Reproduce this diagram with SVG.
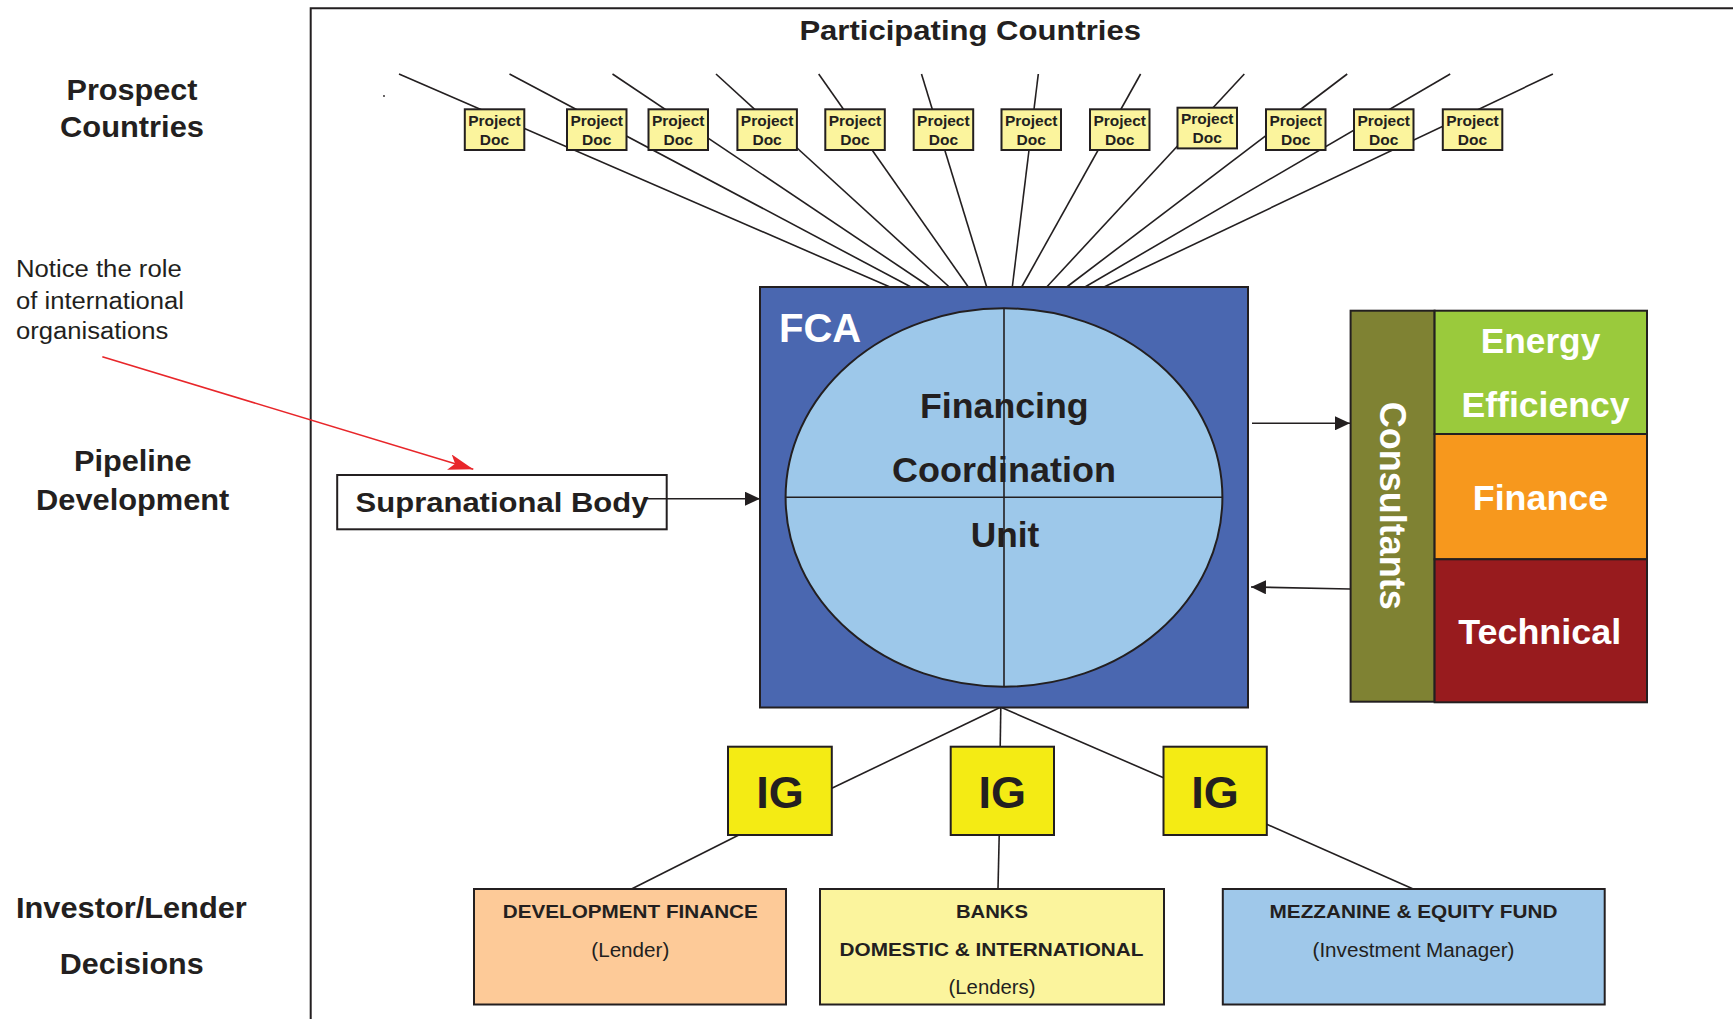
<svg xmlns="http://www.w3.org/2000/svg" width="1733" height="1019" viewBox="0 0 1733 1019">
  <style>
    text { font-family: "Liberation Sans", Arial, Helvetica, sans-serif; fill: #231F20; }
    .b { font-weight: bold; }
    .mid { text-anchor: middle; }
    .white { fill: #FFFFFF; }
    .frame { stroke: #231F20; stroke-width: 2; fill: none; }
    .ln { stroke: #231F20; stroke-width: 1.6; fill: none; }
    .doc rect { fill: #FBF49D; stroke: #231F20; stroke-width: 2; }
    .doc text { font-size: 15.5px; font-weight: bold; text-anchor: middle; }
    .lbl { font-size: 30px; font-weight: bold; text-anchor: middle; }
    .note { font-size: 23px; }
    .ig rect { fill: #F4EB14; stroke: #231F20; stroke-width: 2; }
    .ig text { font-size: 45px; font-weight: bold; text-anchor: middle; }
    .outlet { stroke: #231F20; stroke-width: 2; }
    .ht { font-size: 19px; font-weight: bold; text-anchor: middle; }
    .st { font-size: 19.5px; text-anchor: middle; }
    .fcu { font-size: 35px; font-weight: bold; text-anchor: middle; }
    .cap { font-size: 35px; font-weight: bold; text-anchor: middle; fill: #FFFFFF; }
  </style>
  <defs>
    <marker id="arrow" markerUnits="userSpaceOnUse" viewBox="0 0 15 14" markerWidth="15" markerHeight="14" refX="15" refY="7" orient="auto">
      <path d="M0,0 L15,7 L0,14 Z" fill="#231F20"/>
    </marker>
    <marker id="redArrow" markerUnits="userSpaceOnUse" viewBox="0 0 25 16" markerWidth="25" markerHeight="16" refX="25" refY="8" orient="auto">
      <path d="M0,0 L25,8 L0,16 L6,8 Z" fill="#E8262A"/>
    </marker>
  </defs>

  <rect width="1733" height="1019" fill="#FFFFFF"/>

  <!-- frame around the participating-countries area -->
  <path class="frame" d="M310.7,1019 V8.3 H1733"/>

  <!-- row labels -->
  <g id="label-prospect">
    <text class="lbl" x="132" y="100" textLength="131" lengthAdjust="spacingAndGlyphs">Prospect</text>
    <text class="lbl" x="132" y="136.7" textLength="144" lengthAdjust="spacingAndGlyphs">Countries</text>
  </g>
  <g id="label-note">
    <text class="note" x="16" y="277" textLength="165.7" lengthAdjust="spacingAndGlyphs">Notice the role</text>
    <text class="note" x="16" y="308.5" textLength="168" lengthAdjust="spacingAndGlyphs">of international</text>
    <text class="note" x="16" y="338.5" textLength="152.3" lengthAdjust="spacingAndGlyphs">organisations</text>
  </g>
  <g id="label-pipeline">
    <text class="lbl" x="132.8" y="471" textLength="117.7" lengthAdjust="spacingAndGlyphs">Pipeline</text>
    <text class="lbl" x="132.7" y="509.5" textLength="193.3" lengthAdjust="spacingAndGlyphs">Development</text>
  </g>
  <g id="label-investor">
    <text class="lbl" x="131.4" y="917.5" textLength="230.8" lengthAdjust="spacingAndGlyphs">Investor/Lender</text>
    <text class="lbl" x="131.7" y="973.5" textLength="144" lengthAdjust="spacingAndGlyphs">Decisions</text>
  </g>
  <g id="title">
    <text class="b mid" x="970.2" y="40" font-size="28" textLength="341.6" lengthAdjust="spacingAndGlyphs">Participating Countries</text>
  </g>

  <!-- small stray mark -->
  <circle cx="384" cy="96" r="0.9" fill="#231F20"/>

  <!-- connectors -->
  <g id="connectors">
    <!-- project documents feeding the FCA -->
    <line class="ln" x1="399" y1="74" x2="890" y2="287"/>
    <line class="ln" x1="509.5" y1="74" x2="911" y2="287"/>
    <line class="ln" x1="612.5" y1="74" x2="930" y2="287"/>
    <line class="ln" x1="716" y1="74" x2="949.3" y2="287"/>
    <line class="ln" x1="818.7" y1="74" x2="968.3" y2="287"/>
    <line class="ln" x1="921.5" y1="74" x2="986.7" y2="287"/>
    <line class="ln" x1="1038.3" y1="74" x2="1012.3" y2="287"/>
    <line class="ln" x1="1140.6" y1="74" x2="1021.7" y2="287"/>
    <line class="ln" x1="1244.3" y1="74" x2="1046.7" y2="287"/>
    <line class="ln" x1="1347.2" y1="74" x2="1066.7" y2="287"/>
    <line class="ln" x1="1450.2" y1="74" x2="1085" y2="287"/>
    <line class="ln" x1="1552.9" y1="74" x2="1104" y2="287"/>

    <!-- supranational body into FCA -->
    <line class="ln" x1="647" y1="498.7" x2="760" y2="498.7" marker-end="url(#arrow)"/>
    <!-- FCA to and from consultants -->
    <line class="ln" x1="1252" y1="423.3" x2="1350" y2="423.3" marker-end="url(#arrow)"/>
    <line class="ln" x1="1350" y1="589" x2="1251" y2="587" marker-end="url(#arrow)"/>

    <!-- FCA to investment groups -->
    <line class="ln" x1="1000" y1="707.5" x2="831.8" y2="788.3"/>
    <line class="ln" x1="1000.8" y1="707.5" x2="1000.2" y2="747"/>
    <line class="ln" x1="1001.5" y1="707.5" x2="1163.5" y2="777.7"/>

    <!-- investment groups to funders -->
    <line class="ln" x1="738.8" y1="835" x2="631.5" y2="889"/>
    <line class="ln" x1="999.2" y1="835" x2="998" y2="889"/>
    <line class="ln" x1="1266.8" y1="824.3" x2="1413.2" y2="889"/>

    <!-- annotation pointer -->
    <line x1="102.3" y1="356.7" x2="473.3" y2="469.3" stroke="#E8262A" stroke-width="1.6" marker-end="url(#redArrow)"/>
  </g>

  <!-- project documents -->
  <g id="doc-1" class="doc"><rect x="464.8" y="109.3" width="59.5" height="40.7"/><text x="494.5" y="126">Project</text><text x="494.5" y="144.5">Doc</text></g>
  <g id="doc-2" class="doc"><rect x="567" y="109.3" width="59.5" height="40.7"/><text x="596.7" y="126">Project</text><text x="596.7" y="144.5">Doc</text></g>
  <g id="doc-3" class="doc"><rect x="648.5" y="109.3" width="59.5" height="40.7"/><text x="678.2" y="126">Project</text><text x="678.2" y="144.5">Doc</text></g>
  <g id="doc-4" class="doc"><rect x="737.4" y="109.3" width="59.5" height="40.7"/><text x="767.1" y="126">Project</text><text x="767.1" y="144.5">Doc</text></g>
  <g id="doc-5" class="doc"><rect x="825.3" y="109.3" width="59.5" height="40.7"/><text x="855" y="126">Project</text><text x="855" y="144.5">Doc</text></g>
  <g id="doc-6" class="doc"><rect x="913.7" y="109.3" width="59.5" height="40.7"/><text x="943.4" y="126">Project</text><text x="943.4" y="144.5">Doc</text></g>
  <g id="doc-7" class="doc"><rect x="1001.5" y="109.3" width="59.5" height="40.7"/><text x="1031.2" y="126">Project</text><text x="1031.2" y="144.5">Doc</text></g>
  <g id="doc-8" class="doc"><rect x="1090" y="109.3" width="59.5" height="40.7"/><text x="1119.7" y="126">Project</text><text x="1119.7" y="144.5">Doc</text></g>
  <g id="doc-9" class="doc"><rect x="1177.5" y="107.7" width="59.5" height="40.7"/><text x="1207.2" y="124.4">Project</text><text x="1207.2" y="142.9">Doc</text></g>
  <g id="doc-10" class="doc"><rect x="1266" y="109.3" width="59.5" height="40.7"/><text x="1295.7" y="126">Project</text><text x="1295.7" y="144.5">Doc</text></g>
  <g id="doc-11" class="doc"><rect x="1354" y="109.3" width="59.5" height="40.7"/><text x="1383.7" y="126">Project</text><text x="1383.7" y="144.5">Doc</text></g>
  <g id="doc-12" class="doc"><rect x="1442.8" y="109.3" width="59.5" height="40.7"/><text x="1472.5" y="126">Project</text><text x="1472.5" y="144.5">Doc</text></g>

  <!-- supranational body -->
  <g id="supranational">
    <rect x="337.2" y="475" width="329.5" height="54.3" fill="none" stroke="#231F20" stroke-width="2"/>
    <text class="b" x="355.6" y="511.5" font-size="28.5" textLength="292.8" lengthAdjust="spacingAndGlyphs">Supranational Body</text>
  </g>

  <!-- financing coordination unit -->
  <g id="fca">
    <rect x="760" y="287" width="488" height="420.5" fill="#4A67B0" stroke="#231F20" stroke-width="2"/>
    <text class="b white" x="779" y="341.7" font-size="40">FCA</text>
    <ellipse cx="1004" cy="497.5" rx="218.4" ry="189.2" fill="#9DC8EA" stroke="#231F20" stroke-width="2"/>
    <line class="ln" x1="1004" y1="308.3" x2="1004" y2="686.7"/>
    <line class="ln" x1="785.6" y1="497.3" x2="1222.4" y2="497.3"/>
    <text class="fcu" x="1004.3" y="418" textLength="168.6" lengthAdjust="spacingAndGlyphs">Financing</text>
    <text class="fcu" x="1004" y="482.3" textLength="224" lengthAdjust="spacingAndGlyphs">Coordination</text>
    <text class="fcu" x="1005" y="547" textLength="68.5" lengthAdjust="spacingAndGlyphs">Unit</text>
  </g>

  <!-- consultants -->
  <g id="consultants">
    <rect x="1350.6" y="310.7" width="84" height="391" fill="#7F8233" stroke="#231F20" stroke-width="2"/>
    <text class="b white mid" transform="translate(1380,505.8) rotate(90)" font-size="37" textLength="208" lengthAdjust="spacingAndGlyphs">Consultants</text>
  </g>
  <g id="energy-efficiency">
    <rect x="1434.6" y="310.7" width="212.4" height="123.3" fill="#9ACA3C" stroke="#231F20" stroke-width="2"/>
    <text class="cap" x="1540.5" y="353.3" textLength="119.5" lengthAdjust="spacingAndGlyphs">Energy</text>
    <text class="cap" x="1545.5" y="416.7" textLength="168" lengthAdjust="spacingAndGlyphs">Efficiency</text>
  </g>
  <g id="finance">
    <rect x="1434.6" y="434" width="212.4" height="125.3" fill="#F7981D" stroke="#231F20" stroke-width="2"/>
    <text class="cap" x="1540.5" y="510" textLength="135.5" lengthAdjust="spacingAndGlyphs">Finance</text>
  </g>
  <g id="technical">
    <rect x="1434.6" y="559.3" width="212.4" height="143" fill="#981B1E" stroke="#231F20" stroke-width="2"/>
    <text class="cap" x="1539.7" y="644" textLength="163" lengthAdjust="spacingAndGlyphs">Technical</text>
  </g>

  <!-- investment groups -->
  <g id="ig-1" class="ig"><rect x="728" y="746.7" width="103.8" height="88.3"/><text x="779.9" y="807.5">IG</text></g>
  <g id="ig-2" class="ig"><rect x="950.7" y="746.7" width="103.3" height="88.3"/><text x="1002.3" y="807.5">IG</text></g>
  <g id="ig-3" class="ig"><rect x="1163.5" y="746.7" width="103.3" height="88.3"/><text x="1215.1" y="807.5">IG</text></g>

  <!-- funders -->
  <g id="development-finance">
    <rect class="outlet" x="474" y="889" width="312" height="115.5" fill="#FDCA98"/>
    <text class="ht" x="630.3" y="918.3" textLength="255" lengthAdjust="spacingAndGlyphs">DEVELOPMENT FINANCE</text>
    <text class="st" x="630.3" y="956.5" textLength="78" lengthAdjust="spacingAndGlyphs">(Lender)</text>
  </g>
  <g id="banks">
    <rect class="outlet" x="820" y="889" width="344" height="115.5" fill="#FBF49D"/>
    <text class="ht" x="992" y="918.3" textLength="72" lengthAdjust="spacingAndGlyphs">BANKS</text>
    <text class="ht" x="991.5" y="956" textLength="304" lengthAdjust="spacingAndGlyphs">DOMESTIC &amp; INTERNATIONAL</text>
    <text class="st" x="992" y="994" textLength="87" lengthAdjust="spacingAndGlyphs">(Lenders)</text>
  </g>
  <g id="mezzanine-equity">
    <rect class="outlet" x="1222.8" y="889" width="381.9" height="115.5" fill="#9FC8EA"/>
    <text class="ht" x="1413.5" y="918.3" textLength="288" lengthAdjust="spacingAndGlyphs">MEZZANINE &amp; EQUITY FUND</text>
    <text class="st" x="1413.5" y="956.5" textLength="202" lengthAdjust="spacingAndGlyphs">(Investment Manager)</text>
  </g>
</svg>
